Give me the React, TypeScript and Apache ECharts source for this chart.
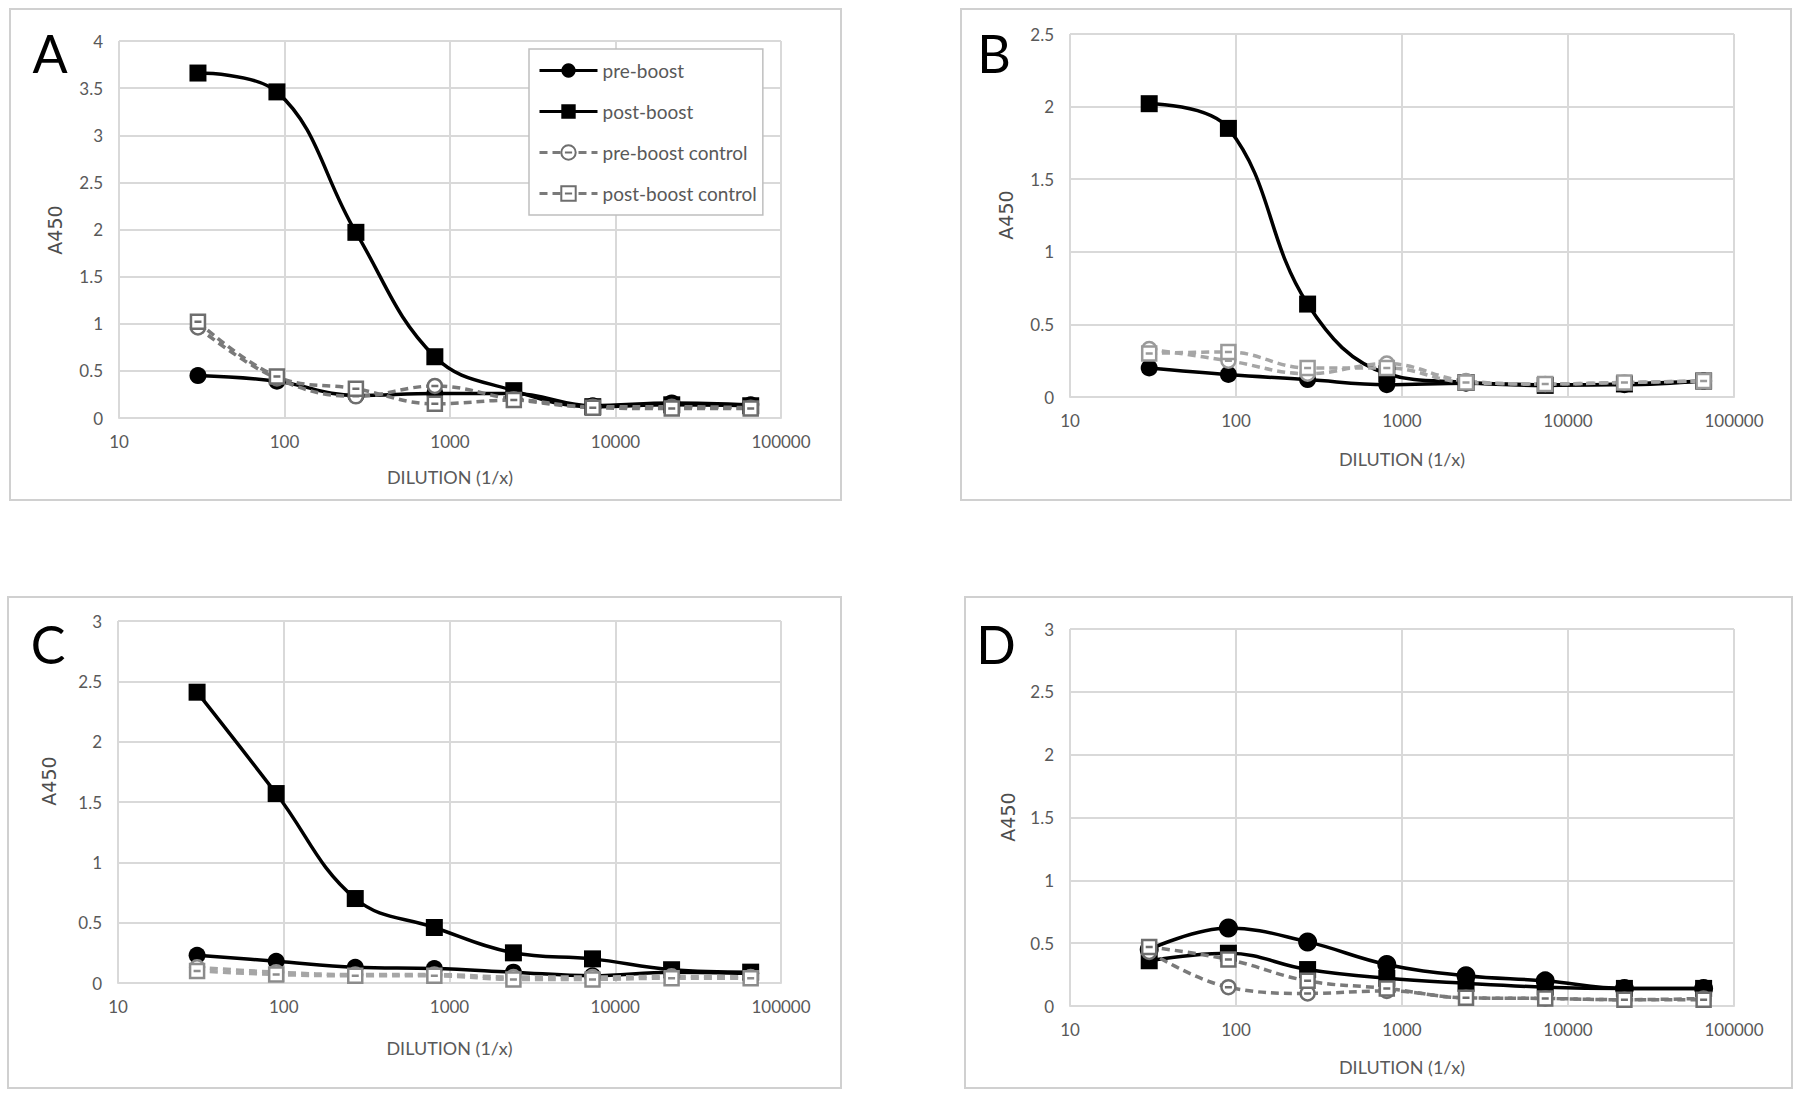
import React, { useEffect, useRef } from "react";
import * as echarts from "echarts";

// ---------- data ----------
const dilutions = [30, 90, 270, 810, 2430, 7290, 21870, 65610];
const seriesNames = ["pre-boost", "post-boost", "pre-boost control", "post-boost control"];
const panelLetters = ["A", "B", "C", "D"];
const yMaxes = [4, 2.5, 3, 3];
const xAxisTitle = "DILUTION (1/x)";
const yAxisTitle = "A450";

// Panel A
const aPre = [0.45, 0.39, 0.24, 0.26, 0.26, 0.13, 0.16, 0.14];
const aPost = [3.66, 3.46, 1.97, 0.65, 0.29, 0.12, 0.14, 0.13];
const aPreCtrl = [0.96, 0.42, 0.23, 0.34, 0.2, 0.12, 0.12, 0.11];
const aPostCtrl = [1.02, 0.44, 0.31, 0.15, 0.19, 0.11, 0.1, 0.1];

// Panel B
const bPre = [0.2, 0.155, 0.12, 0.085, 0.095, 0.085, 0.085, 0.11];
const bPost = [2.02, 1.85, 0.64, 0.16, 0.1, 0.08, 0.09, 0.11];
const bPreCtrl = [0.33, 0.25, 0.16, 0.23, 0.11, 0.09, 0.1, 0.11];
const bPostCtrl = [0.3, 0.31, 0.2, 0.2, 0.1, 0.09, 0.1, 0.11];

// Panel C
const cPre = [0.23, 0.18, 0.13, 0.12, 0.09, 0.06, 0.09, 0.08];
const cPost = [2.41, 1.57, 0.7, 0.46, 0.25, 0.2, 0.11, 0.09];
const cPreCtrl = [0.13, 0.09, 0.07, 0.07, 0.05, 0.05, 0.055, 0.05];
const cPostCtrl = [0.1, 0.07, 0.06, 0.06, 0.03, 0.03, 0.04, 0.04];

// Panel D
const dPre = [0.45, 0.62, 0.51, 0.33, 0.24, 0.2, 0.14, 0.14];
const dPost = [0.36, 0.42, 0.29, 0.22, 0.18, 0.15, 0.14, 0.14];
const dPreCtrl = [0.43, 0.15, 0.1, 0.12, 0.065, 0.06, 0.05, 0.06];
const dPostCtrl = [0.47, 0.37, 0.2, 0.14, 0.065, 0.06, 0.05, 0.05];

const panelData = [
  [aPre, aPost, aPreCtrl, aPostCtrl],
  [bPre, bPost, bPreCtrl, bPostCtrl],
  [cPre, cPost, cPreCtrl, cPostCtrl],
  [dPre, dPost, dPreCtrl, dPostCtrl],
];

// ---------- layout / style ----------
const grids = [
  { left: 119, top: 41, width: 662, height: 377 },
  { left: 1070, top: 34, width: 664, height: 363 },
  { left: 118, top: 621, width: 663, height: 362 },
  { left: 1070, top: 629, width: 664, height: 377 },
];
const frames = [
  { x: 10, y: 9, w: 831, h: 491 },
  { x: 961, y: 9, w: 830, h: 491 },
  { x: 8, y: 597, w: 833, h: 491 },
  { x: 965, y: 597, w: 827, h: 491 },
];
const letterPos = [
  [50, 53],
  [994, 53],
  [48, 644],
  [996, 644],
];
const yTitlePos = [
  [55, 230],
  [1006, 215],
  [49, 781],
  [1008, 817],
];
const xNameGaps = [50, 53, 56, 52];
const ctrlColors = ["#7a7a7a", "#a6a6a6", "#a6a6a6", "#7a7a7a"];
const ctrlMarkerColors = ["#6e6e6e", "#9a9a9a", "#8c8c8c", "#6e6e6e"];

const circleBar =
  "path://M0,-10 A10,10 0 1,1 0,10 A10,10 0 1,1 0,-10 Z M-5,0 L5,0";
const squareBar = "path://M-10,-10 L10,-10 L10,10 L-10,10 Z M-5,0 L5,0";

const labelFont = "Lato, 'Open Sans', sans-serif";
const gridColor = "#d9d9d9";
const textColor = "#595959";

export default function App() {
  const ref = useRef<HTMLDivElement>(null);

  useEffect(() => {
    if (!ref.current) return;
    const chart = echarts.init(ref.current, undefined, { renderer: "svg" });

    const xAxes = grids.map((_, i) => ({
      type: "log" as const,
      logBase: 10,
      min: 10,
      max: 100000,
      gridIndex: i,
      name: xAxisTitle,
      nameLocation: "middle" as const,
      nameGap: xNameGaps[i],
      nameTextStyle: { color: textColor, fontSize: 18, fontFamily: labelFont },
      axisLine: { show: true, lineStyle: { color: gridColor, width: 2 } },
      axisTick: { show: false },
      splitLine: { show: true, lineStyle: { color: gridColor, width: 2 } },
      axisLabel: {
        color: textColor,
        fontSize: 17,
        fontFamily: labelFont,
        margin: 15,
        formatter: (v: number) => String(Math.round(v)),
      },
    }));

    const yAxes = grids.map((_, i) => ({
      type: "value" as const,
      gridIndex: i,
      min: 0,
      max: yMaxes[i],
      interval: 0.5,
      axisLine: { show: false },
      axisTick: { show: false },
      splitLine: { show: true, lineStyle: { color: gridColor, width: 2 } },
      axisLabel: {
        color: textColor,
        fontSize: 17,
        fontFamily: labelFont,
        margin: 16,
        formatter: (v: number) => String(v),
      },
    }));

    const series: any[] = [];
    panelData.forEach((sets, p) => {
      sets.forEach((vals, s) => {
        const isCtrl = s >= 2;
        const isSquare = s % 2 === 1;
        const data = dilutions.map((d, j) => [d, vals[j]]);
        if (!isCtrl) {
          series.push({
            type: "line",
            name: seriesNames[s],
            xAxisIndex: p,
            yAxisIndex: p,
            data,
            smooth: 0.4,
            symbol: isSquare ? "rect" : "circle",
            symbolSize: p === 3 && !isSquare ? 19 : 17,
            lineStyle: { color: "#000", width: 3.5, type: "solid" },
            itemStyle: { color: "#000" },
          });
        } else {
          series.push({
            type: "line",
            name: seriesNames[s],
            xAxisIndex: p,
            yAxisIndex: p,
            data,
            smooth: 0.4,
            symbol: isSquare ? squareBar : circleBar,
            symbolSize: 14,
            lineStyle: { color: ctrlColors[p], width: 3.5, type: [8, 5] },
            itemStyle: {
              color: "#ffffff",
              borderColor: ctrlMarkerColors[p],
              borderWidth: 2.5,
            },
          });
        }
      });
    });

    const graphics: any[] = [];
    frames.forEach((f) => {
      graphics.push({
        type: "rect",
        shape: { x: f.x, y: f.y, width: f.w, height: f.h },
        style: { fill: "none", stroke: "#d0d0d0", lineWidth: 2 },
        silent: true,
        z: -1,
      });
    });
    panelLetters.forEach((l, i) => {
      graphics.push({
        type: "text",
        x: letterPos[i][0],
        y: letterPos[i][1],
        style: {
          text: l,
          fontSize: 52,
          fontFamily: labelFont,
          fill: "#000",
          align: "center",
          verticalAlign: "middle",
        },
      });
      graphics.push({
        type: "text",
        x: yTitlePos[i][0],
        y: yTitlePos[i][1],
        rotation: Math.PI / 2,
        style: {
          text: yAxisTitle,
          fontSize: 19,
          fontFamily: "'DejaVu Sans', sans-serif",
          fill: "#4d4d4d",
          align: "center",
          verticalAlign: "middle",
        },
      });
    });

    chart.setOption({
      animation: false,
      backgroundColor: "#ffffff",
      grid: grids.map((g) => ({ ...g, containLabel: false })),
      xAxis: xAxes,
      yAxis: yAxes,
      legend: {
        data: seriesNames,
        orient: "vertical",
        left: 529,
        top: 49,
        padding: [12, 6, 12, 9],
        itemWidth: 58,
        itemHeight: 18,
        itemGap: 22,
        backgroundColor: "#ffffff",
        borderColor: "#bfbfbf",
        borderWidth: 1.5,
        lineStyle: { width: 3 },
        textStyle: { color: textColor, fontSize: 19, fontFamily: labelFont },
      },
      graphic: graphics,
      series,
    });

    return () => chart.dispose();
  }, []);

  return (
    <div
      ref={ref}
      style={{
        position: "absolute",
        left: 0,
        top: 0,
        width: 1800,
        height: 1099,
        background: "#fff",
      }}
    />
  );
}
